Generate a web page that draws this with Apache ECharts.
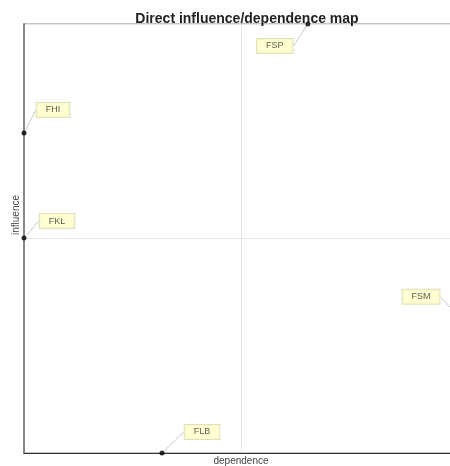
<!DOCTYPE html>
<html>
<head>
<meta charset="utf-8">
<script src="https://cdn.jsdelivr.net/npm/echarts@6/dist/echarts.min.js"></script>
<style>html,body{margin:0;padding:0;background:#fff;overflow:hidden}#c{width:450px;height:466px}</style>
</head>
<body>
<div id="c"></div>
<script>
const variables = ['FSP', 'FHI', 'FKL', 'FSM', 'FLB'];
const dependence = [0.654, 0.0, 0.0, 1.0, 0.318];
const influence = [1.0, 0.746, 0.501, 0.32, 0.0];

// label displacement (layout only)
const labelShift = {
  FSP: [-33, 22],
  FHI: [29, -23],
  FKL: [33, -17],
  FSM: [-37, -19],
  FLB: [40, -21]
};

const chart = echarts.init(document.getElementById('c'), null, { renderer: 'canvas' });
const points = variables.map((v, i) => ({ name: v, value: [dependence[i], influence[i]] }));

chart.setOption({
  animation: false,
  title: {
    text: 'Direct influence/dependence map',
    left: 242,
    textAlign: 'center',
    top: 7,
    textStyle: { fontFamily: 'Liberation Sans, Arial', fontWeight: 'bold', fontSize: 14, color: '#222' }
  },
  grid: { left: 24, top: 24, width: 434, height: 429, outerBoundsMode: 'none', containLabel: false, show: true, borderColor: '#888', borderWidth: 1 },
  xAxis: {
    type: 'value', min: 0, max: 1, interval: 0.5,
    name: 'dependence', nameLocation: 'middle', nameGap: 3,
    nameTextStyle: { fontFamily: 'Liberation Sans, Arial', fontSize: 10, color: '#444' },
    axisLine: { show: true, lineStyle: { color: '#333', width: 1 } },
    axisTick: { show: false }, axisLabel: { show: false },
    splitLine: { show: true, lineStyle: { color: '#e6e6e6', width: 1 } }
  },
  yAxis: {
    type: 'value', min: 0, max: 1, interval: 0.5,
    axisLine: { show: true, lineStyle: { color: '#888', width: 2 } },
    axisTick: { show: false }, axisLabel: { show: false },
    splitLine: { show: true, lineStyle: { color: '#e6e6e6', width: 1 } }
  },
  graphic: [{
    type: 'text', x: 16, y: 215, rotation: Math.PI / 2, origin: [0, 0],
    style: { text: 'influence', fontFamily: 'Liberation Sans, Arial', fontSize: 10, fill: '#444', align: 'center', verticalAlign: 'middle' }
  }],
  series: [{
    type: 'scatter',
    data: points,
    symbol: 'circle',
    symbolSize: 5,
    clip: false,
    itemStyle: { color: '#000' },
    label: {
      show: true,
      position: 'inside',
      formatter: '{b}',
      fontFamily: 'Liberation Sans, Arial',
      fontSize: 9,
      color: '#333',
      backgroundColor: '#ffffc6',
      borderColor: '#d8d8b0',
      borderWidth: 1,
      padding: [3, 9, 2, 9]
    },
    labelLine: { show: true, lineStyle: { color: '#c8c8c8', width: 1 } },
    labelLayout: function (p) {
      const s = labelShift[variables[p.dataIndex]];
      return { dx: s[0], dy: s[1] };
    }
  }]
});
</script>
</body>
</html>
